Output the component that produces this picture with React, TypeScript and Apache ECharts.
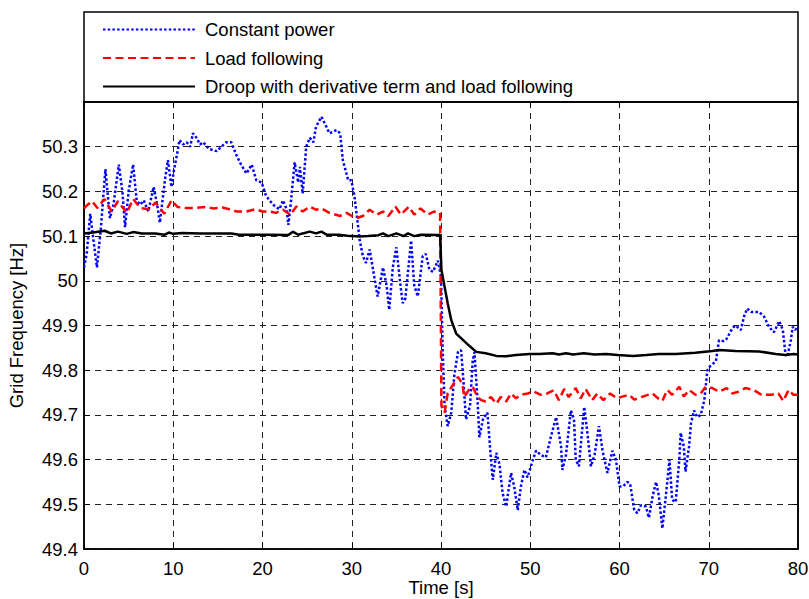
import React, { useEffect, useRef } from "react";
import * as echarts from "echarts";

const FONT = "'Liberation Sans', Arial, Helvetica, sans-serif";

const seriesNames = [
  "Constant power",
  "Load following",
  "Droop with derivative term and load following",
];

const xTicks = { min: 0, max: 80, interval: 10 };
const yTicks = { min: 49.4, max: 50.4, interval: 0.1 };

const constantPower: [number, number][] = [
  [0, 50.03], [0.3, 50.06], [0.7, 50.15], [1.0, 50.1], [1.45, 50.03], [1.9, 50.12], [2.4, 50.25], [2.9, 50.14],
  [3.3, 50.17], [3.9, 50.26], [4.3, 50.2], [4.6, 50.12], [5.0, 50.2], [5.5, 50.26], [5.9, 50.18], [6.3, 50.17],
  [6.7, 50.18], [7.2, 50.155], [7.8, 50.21], [8.2, 50.17], [8.5, 50.13], [9.1, 50.23], [9.4, 50.27], [9.8, 50.21],
  [10.1, 50.25], [10.4, 50.28], [10.7, 50.315], [11.1, 50.305], [11.5, 50.31], [11.9, 50.3], [12.2, 50.33],
  [12.6, 50.32], [13.0, 50.305], [13.35, 50.31], [14.0, 50.295], [14.85, 50.29], [15.4, 50.3], [15.95, 50.31],
  [16.5, 50.31], [17.1, 50.28], [17.6, 50.26], [18.2, 50.24], [18.8, 50.26], [19.3, 50.225], [19.9, 50.22],
  [20.4, 50.19], [20.8, 50.18], [21.2, 50.17], [21.9, 50.16], [22.3, 50.18], [22.7, 50.16], [22.9, 50.125],
  [23.2, 50.18], [23.6, 50.265], [24.0, 50.22], [24.2, 50.255], [24.5, 50.195], [24.9, 50.3], [25.3, 50.32],
  [25.7, 50.31], [26.0, 50.345], [26.6, 50.367], [27.15, 50.345], [27.5, 50.33], [28.3, 50.337], [28.7, 50.33],
  [29.0, 50.27], [29.6, 50.225], [29.95, 50.225], [30.3, 50.19], [30.9, 50.09], [31.25, 50.055], [31.6, 50.04],
  [32.0, 50.07], [32.6, 50.0], [32.9, 49.965], [33.5, 50.03], [33.9, 49.99], [34.2, 49.935], [34.6, 50.03],
  [35.0, 50.075], [35.4, 50.0], [35.7, 49.95], [36.0, 49.96], [36.65, 50.09], [37.0, 49.99], [37.4, 49.965],
  [37.95, 50.055], [38.3, 50.06], [38.7, 50.025], [39.1, 50.02], [39.65, 50.045], [40.0, 50.01], [40.2, 49.84],
  [40.4, 49.72], [40.75, 49.675], [41.15, 49.705], [41.5, 49.79], [41.9, 49.84], [42.25, 49.845], [42.5, 49.78],
  [42.8, 49.69], [43.25, 49.72], [43.55, 49.82], [43.75, 49.84], [44.1, 49.73], [44.3, 49.65], [44.7, 49.69],
  [45.2, 49.705], [45.6, 49.6], [45.8, 49.555], [46.2, 49.615], [46.55, 49.59], [46.9, 49.525], [47.3, 49.495],
  [47.85, 49.57], [48.2, 49.54], [48.6, 49.487], [48.95, 49.54], [49.35, 49.577], [49.7, 49.56], [50.3, 49.6],
  [50.65, 49.62], [51.2, 49.61], [51.75, 49.605], [52.3, 49.65], [52.9, 49.695], [53.45, 49.63], [53.6, 49.577],
  [54.0, 49.61], [54.55, 49.71], [54.9, 49.69], [55.1, 49.6], [55.45, 49.585], [56.05, 49.718], [56.4, 49.66],
  [56.8, 49.585], [57.2, 49.61], [57.7, 49.675], [58.1, 49.62], [58.65, 49.57], [59.2, 49.62], [59.6, 49.6],
  [60.0, 49.54], [60.4, 49.54], [60.9, 49.55], [61.2, 49.545], [61.65, 49.487], [62.0, 49.48], [62.4, 49.498],
  [62.95, 49.495], [63.3, 49.47], [63.7, 49.517], [64.1, 49.55], [64.4, 49.52], [64.8, 49.446], [65.2, 49.52],
  [65.6, 49.6], [65.9, 49.51], [66.3, 49.505], [66.7, 49.6], [66.85, 49.66], [67.2, 49.63], [67.4, 49.573],
  [67.8, 49.63], [68.0, 49.68], [68.35, 49.71], [68.7, 49.695], [69.1, 49.7], [69.5, 49.733], [69.85, 49.8],
  [70.2, 49.81], [70.8, 49.82], [71.15, 49.867], [71.7, 49.865], [72.0, 49.87], [72.65, 49.894], [73.0, 49.9],
  [73.6, 49.89], [73.95, 49.92], [74.3, 49.938], [74.8, 49.93], [75.65, 49.93], [76.2, 49.92], [76.75, 49.897],
  [77.3, 49.885], [77.9, 49.91], [78.3, 49.89], [78.6, 49.835], [78.8, 49.83], [79.2, 49.867], [79.4, 49.897],
  [79.7, 49.89], [80, 49.9],
];

const loadFollowing: [number, number][] = [
  [0, 50.162], [0.4, 50.17], [0.9, 50.178], [1.5, 50.163], [2.3, 50.183], [3.1, 50.155], [3.8, 50.178],
  [4.8, 50.152], [5.5, 50.183], [6.3, 50.163], [7.3, 50.16], [8.0, 50.175], [9.0, 50.15], [9.8, 50.18],
  [10.5, 50.165], [11.3, 50.163], [12.5, 50.163], [13.5, 50.165], [14.5, 50.162], [15.5, 50.164], [16.3, 50.16],
  [17.1, 50.155], [18.2, 50.155], [19.2, 50.16], [20.0, 50.155], [20.8, 50.155], [21.5, 50.152], [22.3, 50.159],
  [23.1, 50.148], [23.8, 50.166], [24.5, 50.155], [25.3, 50.166], [26.0, 50.159], [26.6, 50.162], [27.5, 50.152],
  [28.7, 50.145], [29.4, 50.152], [30.5, 50.14], [31.25, 50.145], [32.0, 50.159], [32.8, 50.148], [33.5, 50.155],
  [34.1, 50.145], [34.9, 50.166], [35.5, 50.148], [36.4, 50.166], [37.0, 50.148], [37.7, 50.162], [38.5, 50.148],
  [39.2, 50.155], [39.9, 50.152], [40.05, 49.72], [40.4, 49.705], [40.75, 49.748], [41.1, 49.76], [41.9, 49.785],
  [42.4, 49.77], [42.6, 49.74], [43.25, 49.76], [43.55, 49.763], [44.1, 49.74], [44.5, 49.733], [45.0, 49.73],
  [45.6, 49.74], [46.2, 49.725], [46.7, 49.74], [47.3, 49.73], [47.85, 49.748], [48.4, 49.737], [48.95, 49.745],
  [49.7, 49.748], [50.45, 49.752], [51.2, 49.745], [51.9, 49.748], [52.65, 49.755], [53.2, 49.733], [53.8, 49.758],
  [54.3, 49.74], [55.1, 49.76], [55.65, 49.737], [56.2, 49.758], [56.95, 49.733], [57.5, 49.748], [58.2, 49.733],
  [58.95, 49.748], [59.7, 49.737], [60.5, 49.742], [61.1, 49.745], [61.65, 49.734], [62.6, 49.741], [63.7, 49.748],
  [64.25, 49.738], [64.8, 49.731], [65.35, 49.756], [65.9, 49.745], [66.7, 49.763], [67.2, 49.741], [67.8, 49.756],
  [68.5, 49.745], [69.1, 49.748], [69.65, 49.763], [70.4, 49.76], [71.15, 49.752], [72.0, 49.76], [72.65, 49.748],
  [73.35, 49.752], [74.1, 49.76], [75.0, 49.756], [75.9, 49.745], [77.0, 49.745], [77.8, 49.748], [78.35, 49.731],
  [78.95, 49.756], [79.5, 49.745], [80, 49.745],
];

const droopDerivative: [number, number][] = [
  [0, 50.106], [1.0, 50.108], [2.3, 50.112], [3.0, 50.106], [3.8, 50.11], [4.8, 50.105], [5.5, 50.109],
  [6.5, 50.106], [8.0, 50.106], [9.0, 50.103], [9.5, 50.108], [10.0, 50.105], [11.0, 50.107], [13.0, 50.106],
  [15.0, 50.106], [16.5, 50.106], [17.4, 50.103], [19.0, 50.103], [20.5, 50.103], [22.9, 50.1025], [23.4, 50.11],
  [24.0, 50.103], [24.5, 50.106], [25.3, 50.11], [26.0, 50.106], [26.6, 50.11], [27.2, 50.103], [28.5, 50.103],
  [29.5, 50.101], [30.9, 50.099], [31.8, 50.1], [33.0, 50.102], [33.5, 50.106], [34.1, 50.1], [35.0, 50.106],
  [35.8, 50.1], [36.3, 50.106], [37.0, 50.1], [37.7, 50.103], [39.9, 50.1025], [40.05, 50.024], [40.4, 49.987],
  [40.75, 49.95], [41.15, 49.912], [41.7, 49.882], [42.45, 49.868], [43.2, 49.854], [43.95, 49.841], [45.0, 49.838],
  [46.2, 49.832], [47.3, 49.831], [48.4, 49.834], [49.9, 49.836], [51.0, 49.836], [52.5, 49.838], [53.2, 49.835],
  [54.0, 49.838], [54.8, 49.835], [56.0, 49.838], [57.2, 49.835], [58.5, 49.836], [59.8, 49.834], [61.5, 49.832],
  [63.0, 49.834], [64.4, 49.836], [66.3, 49.836], [68.5, 49.839], [70.4, 49.843], [71.15, 49.845], [73.0, 49.843],
  [75.65, 49.842], [77.5, 49.836], [78.6, 49.834], [79.5, 49.836], [80, 49.835],
];

export default function App() {
  const ref = useRef<HTMLDivElement>(null);

  useEffect(() => {
    if (!ref.current) return;
    const chart = echarts.init(ref.current, undefined, { renderer: "svg" });

    const gridLine = { show: true, lineStyle: { color: "#222", type: [6, 5], width: 1 } };
    const axisLine = { show: true, onZero: false, lineStyle: { color: "#000", width: 1.5 } };
    const tick = { show: true, inside: true, length: 6, lineStyle: { color: "#000", width: 1 } };
    const labelStyle = { color: "#000", fontSize: 18.5, fontFamily: FONT };

    chart.setOption({
      animation: false,
      backgroundColor: "#fff",
      grid: {
        left: 84,
        right: 11,
        top: 102,
        bottom: 50,
        containLabel: false,
        outerBoundsMode: "none",
        show: true,
        borderColor: "#000",
        borderWidth: 1.5,
        backgroundColor: "transparent",
      },
      legend: {
        show: true,
        orient: "vertical",
        left: 102,
        top: 20,
        padding: 0,
        itemWidth: 92,
        itemHeight: 14,
        itemGap: 9.5,
        itemStyle: { opacity: 0 },
        textStyle: { ...labelStyle, padding: [0, 0, 0, 5] },
        data: seriesNames,
      },
      graphic: [
        {
          type: "rect",
          shape: { x: 84, y: 12, width: 714, height: 90 },
          style: { fill: "#fff", stroke: "#000", lineWidth: 1.5 },
          z: -1,
          silent: true,
        },
      ],
      xAxis: [
        {
          type: "value",
          position: "bottom",
          min: xTicks.min,
          max: xTicks.max,
          interval: xTicks.interval,
          name: "Time [s]",
          nameLocation: "middle",
          nameGap: 29,
          nameMoveOverlap: false,
          nameTextStyle: { ...labelStyle, lineHeight: 19 },
          axisLine,
          axisTick: tick,
          axisLabel: { ...labelStyle, margin: 10 },
          splitLine: gridLine,
        },
        {
          type: "value",
          position: "top",
          min: xTicks.min,
          max: xTicks.max,
          interval: xTicks.interval,
          axisLine,
          axisTick: tick,
          axisLabel: { show: false },
          splitLine: { show: false },
        },
      ],
      yAxis: [
        {
          type: "value",
          position: "left",
          min: yTicks.min,
          max: yTicks.max,
          interval: yTicks.interval,
          name: "Grid Frequency [Hz]",
          nameLocation: "middle",
          nameGap: 58,
          nameMoveOverlap: false,
          nameTextStyle: labelStyle,
          axisLine,
          axisTick: tick,
          axisLabel: { ...labelStyle, margin: 6, showMaxLabel: false },
          splitLine: gridLine,
        },
        {
          type: "value",
          position: "right",
          min: yTicks.min,
          max: yTicks.max,
          interval: yTicks.interval,
          axisLine,
          axisTick: tick,
          axisLabel: { show: false },
          splitLine: { show: false },
        },
      ],
      series: [
        {
          name: seriesNames[0],
          type: "line",
          xAxisIndex: 0,
          yAxisIndex: 0,
          data: constantPower,
          showSymbol: false,
          symbol: "none",
          lineStyle: { color: "#0000ff", width: 2.5, type: [2.5, 2.2] },
          itemStyle: { color: "#0000ff" },
        },
        {
          name: seriesNames[1],
          type: "line",
          xAxisIndex: 0,
          yAxisIndex: 0,
          data: loadFollowing,
          showSymbol: false,
          symbol: "none",
          lineStyle: { color: "#ff0000", width: 2.5, type: [8, 4.5] },
          itemStyle: { color: "#ff0000" },
        },
        {
          name: seriesNames[2],
          type: "line",
          xAxisIndex: 0,
          yAxisIndex: 0,
          data: droopDerivative,
          showSymbol: false,
          symbol: "none",
          lineStyle: { color: "#000000", width: 2.5, type: "solid" },
          itemStyle: { color: "#000000" },
        },
      ],
    });

    return () => chart.dispose();
  }, []);

  return (
    <div
      ref={ref}
      style={{ position: "fixed", left: 0, top: 0, width: 809, height: 599, background: "#fff" }}
    />
  );
}
